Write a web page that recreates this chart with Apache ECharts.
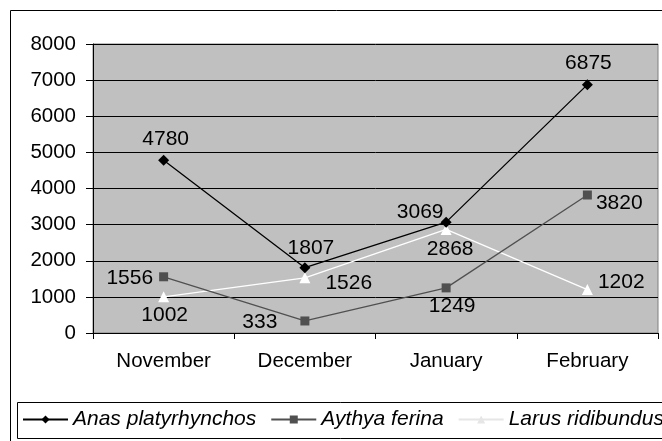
<!DOCTYPE html>
<html>
<head>
<meta charset="utf-8">
<script src="https://cdn.jsdelivr.net/npm/echarts@6/dist/echarts.min.js"></script>
<style>
  * { margin: 0; padding: 0; }
  body { background: #fff; }
  #chart { width: 662px; height: 441px; }
</style>
</head>
<body>
<div id="chart"></div>
<script>
// data
var months = ["November", "December", "January", "February"];
var anas = [4780, 1807, 3069, 6875];
var aythya = [1556, 333, 1249, 3820];
var larus = [1002, 1526, 2868, 1202];
var yTicks = [0, 1000, 2000, 3000, 4000, 5000, 6000, 7000, 8000];

// where each value label sits relative to its point
var anasLabels = [
  { position: "top", distance: 5, offset: [2, 0] },
  { position: "top", distance: 4, offset: [6, 0] },
  { position: "top", distance: 0, offset: [-26, 6] },
  { position: "top", distance: 5, offset: [1, 0] }
];
var aythyaLabels = [
  { position: "left", distance: 6, offset: [0, 1] },
  { position: "left", distance: 23, offset: [0, 1] },
  { position: "bottom", distance: 3, offset: [6, 0] },
  { position: "right", distance: 4, offset: [0, 8] }
];
var larusLabels = [
  { position: "bottom", distance: 2, offset: [1, 0] },
  { position: "right", distance: 15, offset: [0, 5] },
  { position: "bottom", distance: 4, offset: [4, 0] },
  { position: "right", distance: 5, offset: [0, -7] }
];

function withLabels(values, labels) {
  return values.map(function (v, i) {
    return { value: v, label: labels[i] };
  });
}

var font = "Liberation Sans, Arial, sans-serif";
var chart = echarts.init(document.getElementById("chart"));

var option = {
  backgroundColor: "#fff",
  animation: false,
  textStyle: { fontFamily: font },
  graphic: [
    {
      type: "rect",
      shape: { x: 10.5, y: 10.5, width: 700, height: 500 },
      style: { fill: "none", stroke: "#000", lineWidth: 1 },
      z: 0
    },
    {
      type: "rect",
      shape: { x: 17.5, y: 402.5, width: 700, height: 36 },
      style: { fill: "#fff", stroke: "#000", lineWidth: 1 },
      z: 1
    }
  ],
  grid: {
    left: 93,
    top: 44,
    right: 4,
    bottom: 108,
    show: true,
    backgroundColor: "#c0c0c0",
    borderColor: "#808080",
    borderWidth: 1
  },
  legend: {
    left: 22,
    top: 409,
    width: 900,
    padding: 0,
    itemGap: 14,
    itemWidth: 45,
    itemHeight: 10,
    z: 5,
    textStyle: { fontFamily: font, fontSize: 21, fontStyle: "italic", color: "#000" },
    data: [
      { name: "Anas platyrhynchos" },
      { name: "Aythya ferina" },
      { name: "Larus ridibundus", itemStyle: { color: "#e6e6e6" }, lineStyle: { color: "#e6e6e6" } }
    ]
  },
  xAxis: {
    type: "category",
    data: months,
    boundaryGap: true,
    axisLine: { lineStyle: { color: "#000", width: 1 } },
    axisTick: { show: true, length: 6, lineStyle: { color: "#000" } },
    axisLabel: { color: "#000", fontSize: 20.5, margin: 18, fontFamily: font },
    splitLine: { show: false }
  },
  yAxis: {
    type: "value",
    min: yTicks[0],
    max: yTicks[yTicks.length - 1],
    interval: yTicks[1] - yTicks[0],
    axisLine: { show: true, lineStyle: { color: "#000", width: 1 } },
    axisTick: { show: true, length: 7, lineStyle: { color: "#000" } },
    axisLabel: {
      color: "#000", fontSize: 20.5, margin: 17, fontFamily: font,
      formatter: function (v) { return String(v); }
    },
    splitLine: { show: true, lineStyle: { color: "#000", width: 1 } }
  },
  series: [
    {
      name: "Anas platyrhynchos",
      type: "line",
      data: withLabels(anas, anasLabels),
      symbol: "diamond",
      symbolSize: 11,
      z: 4,
      itemStyle: { color: "#000" },
      lineStyle: { color: "#000", width: 1.3 },
      label: { show: true, color: "#000", fontSize: 21, fontFamily: font }
    },
    {
      name: "Aythya ferina",
      type: "line",
      data: withLabels(aythya, aythyaLabels),
      symbol: "rect",
      symbolSize: 9,
      z: 3,
      itemStyle: { color: "#505050" },
      lineStyle: { color: "#505050", width: 1.3 },
      label: { show: true, color: "#000", fontSize: 21, fontFamily: font }
    },
    {
      name: "Larus ridibundus",
      type: "line",
      data: withLabels(larus, larusLabels),
      symbol: "triangle",
      symbolSize: 11,
      z: 2,
      itemStyle: { color: "#fff" },
      lineStyle: { color: "#fff", width: 1.3 },
      label: { show: true, color: "#000", fontSize: 21, fontFamily: font }
    }
  ]
};

chart.setOption(option);
window.onresize = chart.resize;
</script>
</body>
</html>
